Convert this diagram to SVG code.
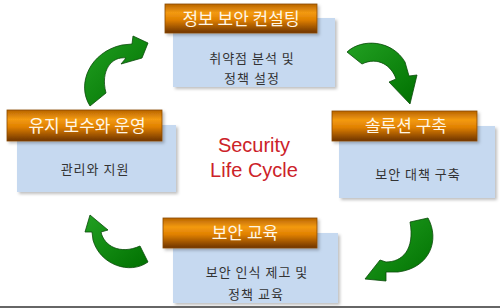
<svg xmlns="http://www.w3.org/2000/svg" width="500" height="308" viewBox="0 0 500 308">
<defs>
<linearGradient id="hdr" x1="0" y1="0" x2="0" y2="1">
<stop offset="0" stop-color="#b86400"/>
<stop offset="0.3" stop-color="#f39a12"/>
<stop offset="0.55" stop-color="#e08000"/>
<stop offset="1" stop-color="#6e3400"/>
</linearGradient>
<linearGradient id="grn" x1="0" y1="0" x2="1" y2="1">
<stop offset="0" stop-color="#22a022"/>
<stop offset="1" stop-color="#007000"/>
</linearGradient>
<filter id="sh" x="-10%" y="-10%" width="130%" height="130%">
<feDropShadow dx="2" dy="2" stdDeviation="1.5" flood-color="#000" flood-opacity="0.25"/>
</filter>
</defs>
<style>
.body{fill:#c6d9f0;filter:url(#sh)}
.hdr{fill:url(#hdr);stroke:#8a4a00;stroke-width:0.8;filter:url(#sh)}
.ht{font-family:"Noto Sans CJK KR","Noto Sans",sans-serif;font-size:17px;fill:#fff6e6;text-anchor:middle}
.bt{font-family:"Noto Sans CJK KR","Noto Sans",sans-serif;font-size:13px;fill:#333;text-anchor:middle;letter-spacing:1px}
.arr{fill:url(#grn);stroke:#0a4a0a;stroke-width:0.8;stroke-linejoin:round}
.ct{font-family:"Liberation Sans",Arial,sans-serif;font-size:20px;fill:#cc2229;text-anchor:middle}
</style>
<rect width="500" height="308" fill="#fff"/>
<g id="connectors">
<path class="arr" d="M90,106 C76,84 90,52 122,45 L132,44 L133,36 L148,43 L142,58 L121,64 L126,58 C112,56 100,70 106,93 Z"/>
<path class="arr" d="M347,52 C362,38 392,40 405,62 L409,76 L417,75 L410,104 L389,82 L396,79 C392,66 378,56 362,64 Z"/>
<path class="arr" d="M428,218 C440,240 430,268 398,272 L386,272 L386,281 L365,279 L380,260 L386,262 C402,262 415,250 410,222 Z"/>
<path class="arr" d="M148,262 C130,275 100,265 93,240 L92,232 L85,232 L90,215 L108,230 L101,232 C104,246 120,255 140,246 Z"/>
</g>
<g id="node-consulting">
<rect class="body" x="173" y="18" width="162" height="69"/>
<rect class="hdr" x="165" y="4" width="152" height="29"/>
<text class="ht" x="241" y="25">정보 보안 컨설팅</text>
<text class="bt" x="252" y="63">취약점 분석 및</text>
<text class="bt" x="252" y="83">정책 설정</text>
</g>
<g id="node-solution">
<rect class="body" x="339" y="126" width="156" height="72"/>
<rect class="hdr" x="332" y="111" width="145" height="30"/>
<text class="ht" x="406" y="132">솔루션 구축</text>
<text class="bt" x="418" y="179">보안 대책 구축</text>
</g>
<g id="node-education">
<rect class="body" x="173" y="233" width="165" height="70"/>
<rect class="hdr" x="163" y="218" width="154" height="30"/>
<text class="ht" x="245" y="239">보안 교육</text>
<text class="bt" x="257" y="277">보안 인식 제고 및</text>
<text class="bt" x="256" y="299">정책 교육</text>
</g>
<g id="node-maintenance">
<rect class="body" x="17" y="125" width="159" height="67"/>
<rect class="hdr" x="7" y="110" width="155" height="31"/>
<text class="ht" x="87" y="132">유지 보수와 운영</text>
<text class="bt" x="95" y="174">관리와 지원</text>
</g>
<g id="center">
<text class="ct" x="254" y="152">Security</text>
<text class="ct" x="254" y="177">Life Cycle</text>
</g>
<line x1="0" y1="307" x2="500" y2="307" stroke="#666" stroke-width="2"/>
</svg>
